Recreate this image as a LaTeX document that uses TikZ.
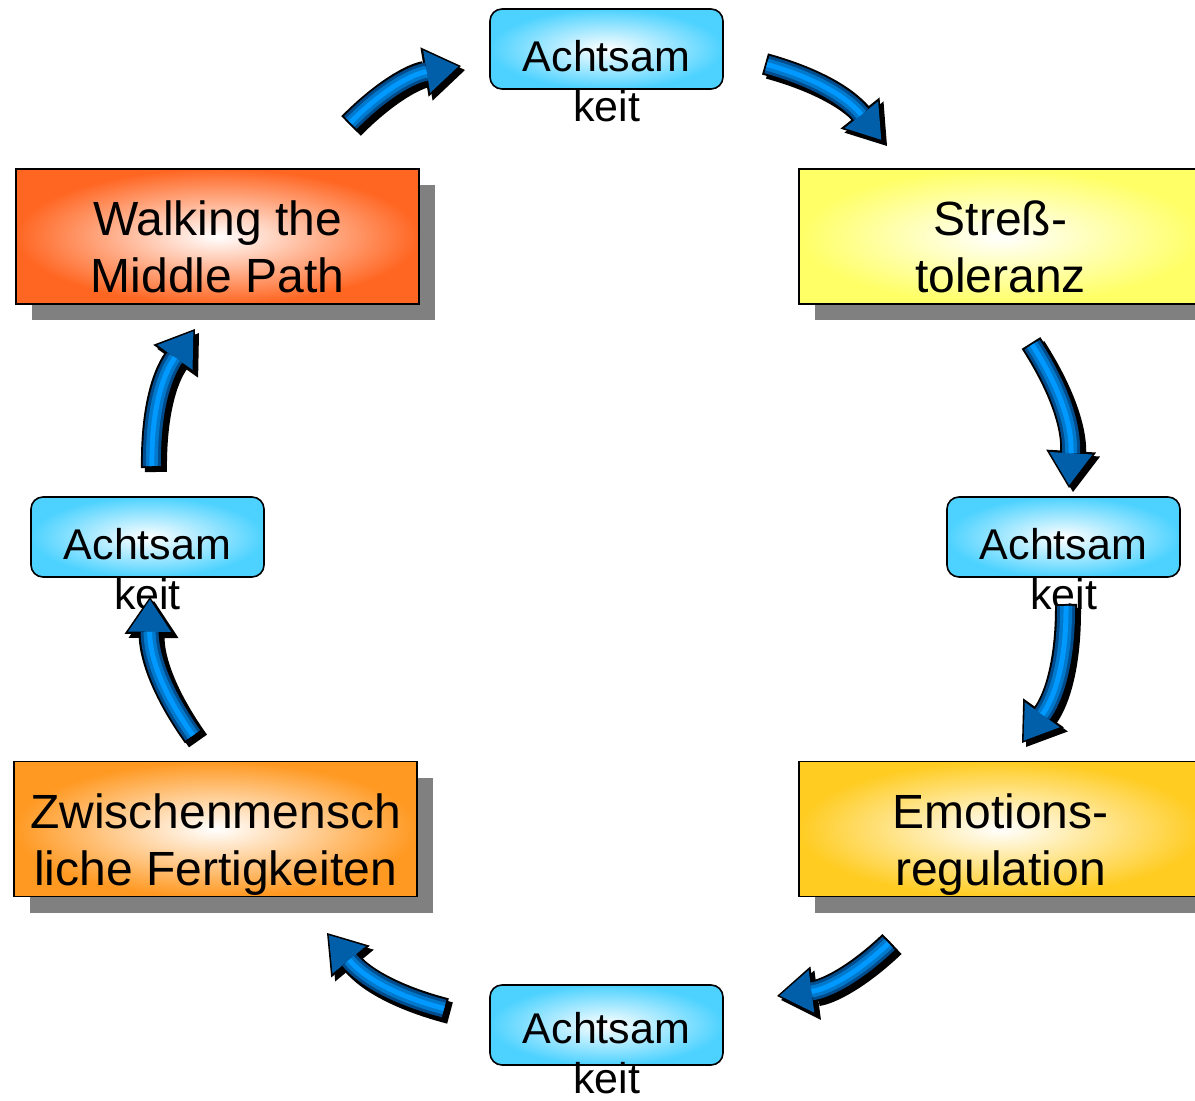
\documentclass[tikz,border=0pt]{standalone}
\usepackage{fontspec}
\setmainfont{Liberation Sans}
\usetikzlibrary{arrows.meta,shadows}
\definecolor{walkorange}{HTML}{FF6622}
\definecolor{stressyellow}{HTML}{FFFF66}
\definecolor{emogold}{HTML}{FFCC22}
\definecolor{skillorange}{HTML}{FF9922}
\definecolor{mindblue}{HTML}{4DD2FF}
\definecolor{flowdark}{HTML}{004C8C}
\definecolor{flowmid}{HTML}{0078CC}
\definecolor{flowlight}{HTML}{0099FF}
\definecolor{flowhead}{HTML}{005FA8}

\begin{document}
\begin{tikzpicture}[x=0.5pt,y=-0.5pt,
    skillbox/.style={draw,line width=0.8pt,inner sep=0pt,minimum width=201.5pt,minimum height=67.5pt,
      align=center,inner color=white,outer color=#1,
      drop shadow={shadow xshift=8pt,shadow yshift=-8pt,opacity=1,fill=black!50},
      font=\fontsize{24}{28.5}\selectfont,text height=56pt,text depth=0pt},
    mindbox/.style={draw,line width=0.8pt,rounded corners=6pt,minimum width=116.5pt,minimum height=40pt,
      inner color=white,outer color=mindblue},
    mindtext/.style={inner sep=0pt,align=center,font=\fontsize{21.5}{25}\selectfont},
    flow/.style={
      preaction={draw=black,line width=11pt,shorten <=0pt,shorten >=0pt,
        -{Triangle[width=25pt,length=18.5pt,line width=0pt]},transform canvas={shift={(2pt,-2pt)}}},
      preaction={draw=black,line width=11pt,shorten <=0pt,shorten >=0pt,
        -{Triangle[width=25pt,length=18.5pt,line width=0pt]}},
      draw=flowdark,line width=9pt,shorten <=1pt,shorten >=1.4pt,
      -{Triangle[width=21.5pt,length=16pt,line width=0pt,color=flowhead]},
      postaction={draw=flowmid,line width=6pt,-,shorten <=1pt,shorten >=17.4pt},
      postaction={draw=flowlight,line width=2.5pt,-,shorten <=1pt,shorten >=17.4pt}}]
    \useasboundingbox (0,0) rectangle (1195,1101);

    % skill boxes
    \node[skillbox=walkorange] (walk) at (217.5,236.5) {Walking the\\Middle Path};
    \node[skillbox=stressyellow] (stress) at (1000.5,236.5) {Streß-\\toleranz};
    \node[skillbox=emogold] (emotion) at (1000.5,829) {Emotions-\\regulation};
    \node[skillbox=skillorange] (social) at (215.5,829) {Zwischenmensch\\liche Fertigkeiten};

    % Achtsamkeit boxes
    \node[mindbox] (mindTop) at (606.5,49) {};
    \node[mindbox] (mindRight) at (1063.5,537) {};
    \node[mindbox] (mindBottom) at (606.5,1025) {};
    \node[mindbox] (mindLeft) at (147.5,537) {};

    \node[mindtext,anchor=north] (mindTopText) at ([yshift=4.5pt]mindTop.center) {Achtsam\\keit};
    \node[mindtext,anchor=north] (mindRightText) at ([yshift=4.5pt]mindRight.center) {Achtsam\\keit};
    \node[mindtext,anchor=north] (mindBottomText) at ([yshift=6.5pt]mindBottom.center) {Achtsam\\keit};
    \node[mindtext,anchor=north] (mindLeftText) at ([yshift=4.5pt]mindLeft.center) {Achtsam\\keit};

    % arrow ends
    \coordinate (f1s) at (349,124);  \coordinate (f1e) at (461,66);
    \coordinate (f2s) at (765,64);   \coordinate (f2e) at (883,142);
    \coordinate (f3s) at (1031,343); \coordinate (f3e) at (1069,488);
    \coordinate (f4s) at (1066,604); \coordinate (f4e) at (1022,743);
    \coordinate (f5s) at (890,942);  \coordinate (f5e) at (777,996);
    \coordinate (f6s) at (446,1009); \coordinate (f6e) at (327,933);
    \coordinate (f7s) at (194,737);  \coordinate (f7e) at (150,597);
    \coordinate (f8s) at (152,468);  \coordinate (f8e) at (195,329);

    % arrows round the circle
    \draw[flow] (f1s) to[bend left=18] (f1e);
    \draw[flow] (f2s) to[bend left=18] (f2e);
    \draw[flow] (f3s) to[bend left=18] (f3e);
    \draw[flow] (f4s) to[bend left=18] (f4e);
    \draw[flow] (f5s) to[bend left=18] (f5e);
    \draw[flow] (f6s) to[bend left=18] (f6e);
    \draw[flow] (f7s) to[bend left=18] (f7e);
    \draw[flow] (f8s) to[bend left=18] (f8e);
\end{tikzpicture}
\end{document}
